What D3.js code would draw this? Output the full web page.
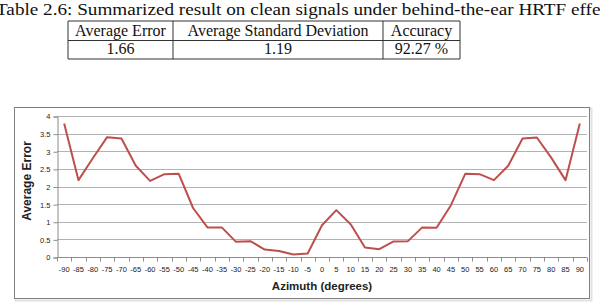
<!DOCTYPE html>
<html>
<head>
<meta charset="utf-8">
<script src="https://cdn.jsdelivr.net/npm/d3@7"></script>
<style>
  body { margin: 0; background: #fff; }
  svg { display: block; }
  .serif { font-family: "Liberation Serif", "Times New Roman", serif; fill: #111; }
  .sans { font-family: "Liberation Sans", Arial, sans-serif; fill: #222; }
</style>
</head>
<body>
<div id="chart"></div>
<script>
// table above the chart
const caption = "Table 2.6: Summarized result on clean signals under behind-the-ear HRTF effect";
const tableHeaders = ["Average Error", "Average Standard Deviation", "Accuracy"];
const tableValues = ["1.66", "1.19", "92.27 %"];

// chart data
const azimuths = [-90, -85, -80, -75, -70, -65, -60, -55, -50, -45, -40, -35, -30, -25, -20, -15, -10, -5,
  0, 5, 10, 15, 20, 25, 30, 35, 40, 45, 50, 55, 60, 65, 70, 75, 80, 85, 90];
const avgError = [3.79, 2.18, 2.80, 3.40, 3.36, 2.59, 2.16, 2.35, 2.36, 1.39, 0.84, 0.84, 0.43, 0.45, 0.21, 0.17, 0.07, 0.10,
  0.90, 1.33, 0.93, 0.27, 0.22, 0.44, 0.45, 0.84, 0.83, 1.47, 2.36, 2.35, 2.18, 2.59, 3.36, 3.39, 2.82, 2.18, 3.79];
const yTicks = [0, 0.5, 1, 1.5, 2, 2.5, 3, 3.5, 4];

const W = 600, H = 306;
const svg = d3.select("#chart").append("svg")
  .attr("width", W)
  .attr("height", H);

// caption: the page is cropped, so "effe" of the last word sits at the right edge
const cap = svg.append("text")
  .attr("class", "serif")
  .attr("x", 0)
  .attr("y", 15)
  .attr("font-size", 17)
  .text(caption);
const visibleLen = cap.node().getSubStringLength(0, caption.indexOf("effect") + 4);
const capScale = 605 / visibleLen;
cap.attr("transform", `translate(-4,0) scale(${capScale},1)`);

// table
const colEdges = [68, 173, 383, 460];
const rowEdges = [21, 40.5, 59];
const tbl = svg.append("g").attr("stroke", "#333").attr("stroke-width", 1);
colEdges.forEach(cx => tbl.append("line")
  .attr("x1", cx).attr("x2", cx).attr("y1", rowEdges[0]).attr("y2", rowEdges[2]));
rowEdges.forEach(ry => tbl.append("line")
  .attr("x1", colEdges[0]).attr("x2", colEdges[3]).attr("y1", ry).attr("y2", ry));

[tableHeaders, tableValues].forEach((row, r) => {
  svg.append("g")
    .selectAll("text")
    .data(row)
    .join("text")
      .attr("class", "serif")
      .attr("font-size", 16)
      .attr("text-anchor", "middle")
      .attr("x", (d, i) => (colEdges[i] + colEdges[i + 1]) / 2)
      .attr("y", rowEdges[r + 1] - 5)
      .text(d => d);
});

// chart frame
svg.append("rect")
  .attr("x", 15.5).attr("y", 108.5)
  .attr("width", 576).attr("height", 192)
  .attr("fill", "none").attr("stroke", "#e2e2e2").attr("stroke-width", 2);
svg.append("rect")
  .attr("x", 14.5).attr("y", 107.5)
  .attr("width", 575).attr("height", 191)
  .attr("fill", "#fff").attr("stroke", "#7f7f7f");

const plot = { left: 57, right: 587, top: 116, bottom: 257 };

const x = d3.scaleBand()
  .domain(azimuths)
  .range([plot.left, plot.right]);
const y = d3.scaleLinear()
  .domain([0, 4])
  .range([plot.bottom, plot.top]);

// horizontal gridlines
svg.append("g")
  .selectAll("line")
  .data(yTicks.slice(1))
  .join("line")
    .attr("x1", plot.left).attr("x2", plot.right)
    .attr("y1", d => Math.round(y(d)) + 0.5)
    .attr("y2", d => Math.round(y(d)) + 0.5)
    .attr("stroke", "#b3b3b3");

// y axis
const yAxis = svg.append("g")
  .attr("transform", `translate(${plot.left + 0.5},0.5)`)
  .call(d3.axisLeft(y).tickValues(yTicks).tickSize(4).tickPadding(3).tickFormat(d3.format("")));
yAxis.select(".domain").attr("stroke", "#8c8c8c");
yAxis.selectAll(".tick line").attr("stroke", "#8c8c8c");
yAxis.selectAll(".tick text")
  .attr("class", "sans")
  .attr("font-size", 7.5);

// x axis, ticks between categories
const xAxis = svg.append("g")
  .attr("transform", `translate(0,${plot.bottom + 0.5})`);
xAxis.append("line")
  .attr("x1", plot.left).attr("x2", plot.right)
  .attr("stroke", "#8c8c8c");
const edges = azimuths.map(d => x(d)).concat([plot.right]);
xAxis.selectAll(".xtick")
  .data(edges)
  .join("line")
    .attr("class", "xtick")
    .attr("x1", d => Math.round(d) + 0.5)
    .attr("x2", d => Math.round(d) + 0.5)
    .attr("y1", 0).attr("y2", 4)
    .attr("stroke", "#8c8c8c");
xAxis.selectAll(".xlabel")
  .data(azimuths)
  .join("text")
    .attr("class", "sans xlabel")
    .attr("font-size", 7.5)
    .attr("text-anchor", "middle")
    .attr("x", d => x(d) + x.bandwidth() / 2)
    .attr("y", 14)
    .text(d => d);

// axis titles
svg.append("text")
  .attr("class", "sans")
  .attr("font-size", 11.5)
  .attr("font-weight", "bold")
  .attr("text-anchor", "middle")
  .attr("x", 322)
  .attr("y", 290)
  .text("Azimuth (degrees)");
svg.append("text")
  .attr("class", "sans")
  .attr("font-size", 12)
  .attr("font-weight", "bold")
  .attr("text-anchor", "middle")
  .attr("transform", "translate(31,181) rotate(-90)")
  .text("Average Error");

// the series
const line = d3.line()
  .x((d, i) => x(azimuths[i]) + x.bandwidth() / 2)
  .y(d => y(d));
svg.append("path")
  .datum(avgError)
  .attr("d", line)
  .attr("fill", "none")
  .attr("stroke", "#bd4f4c")
  .attr("stroke-width", 2)
  .attr("stroke-linejoin", "round");
</script>
</body>
</html>
